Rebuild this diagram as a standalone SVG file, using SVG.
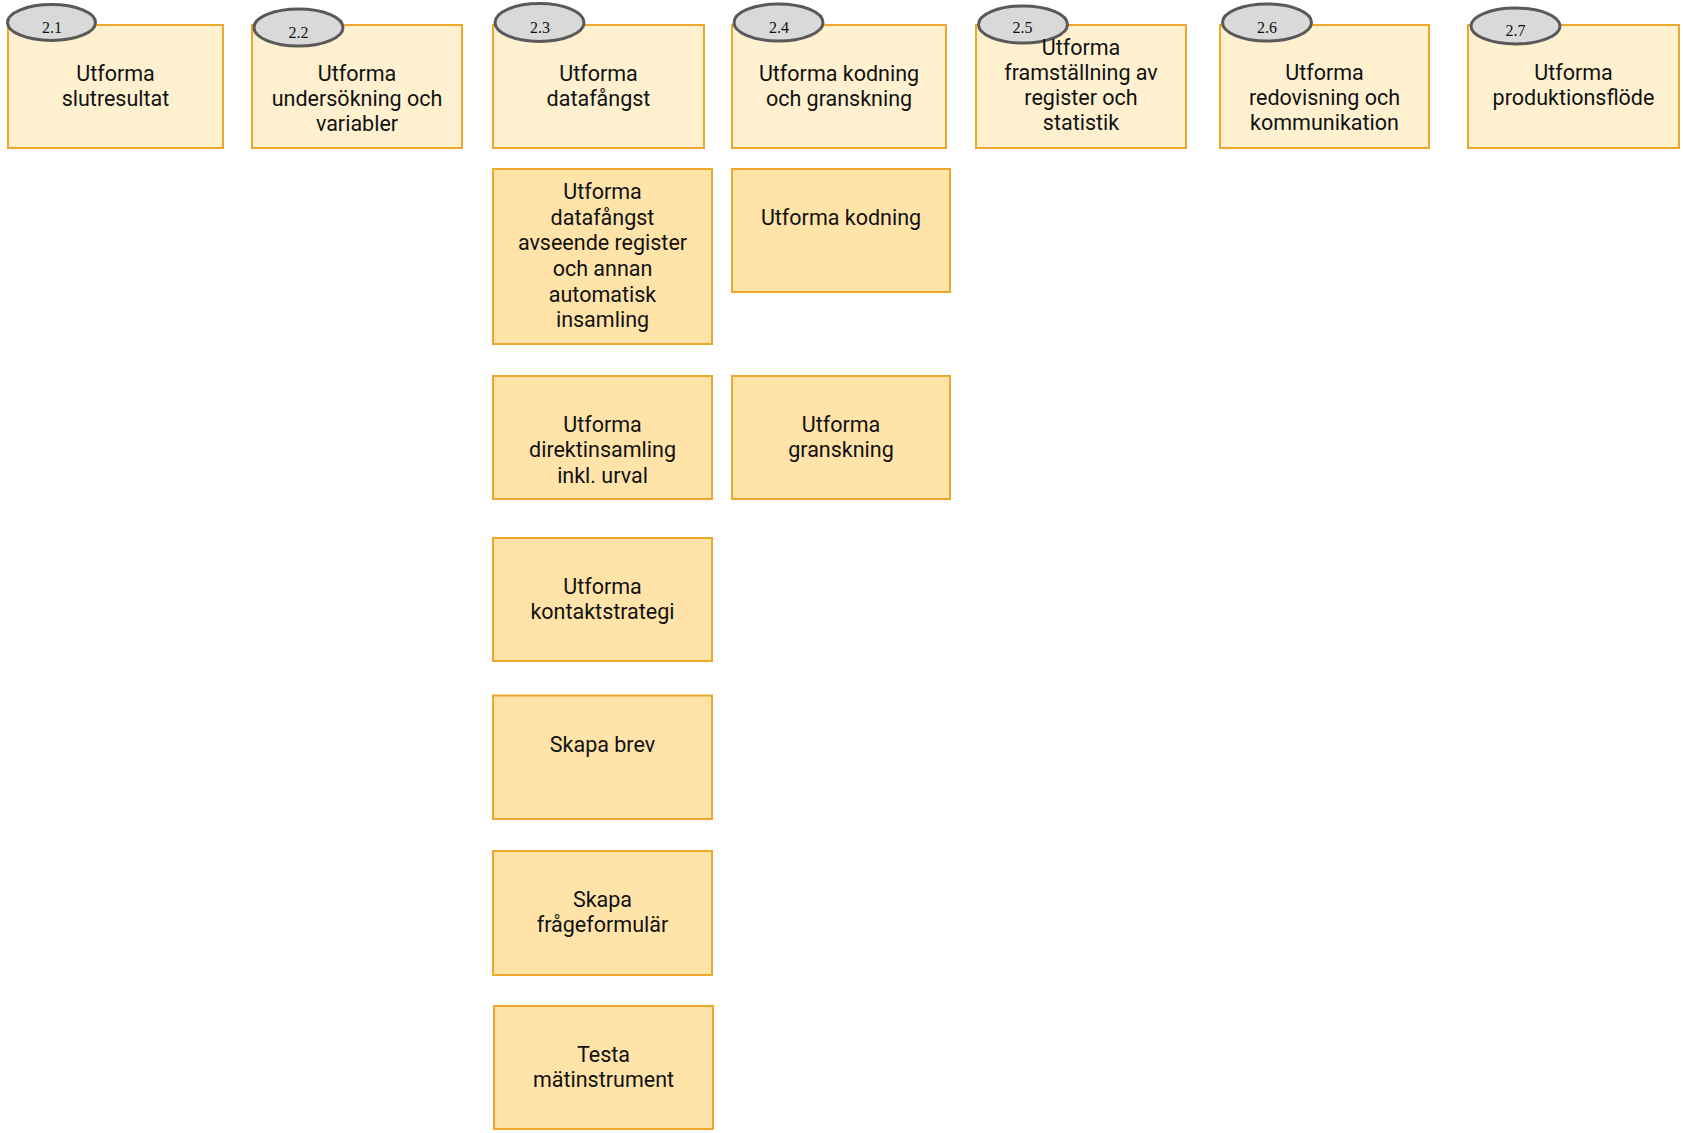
<svg xmlns="http://www.w3.org/2000/svg" width="1683" height="1133" viewBox="0 0 1683 1133">
<style>
.top{fill:#FFF1D0;stroke:#EBA82A;stroke-width:2}
.sub{fill:#FFE3A8;stroke:#EBA82A;stroke-width:2}
.ell{fill:#D9D9D9;stroke:#595959;stroke-width:3}
.t{font-family:Roboto,"Liberation Sans",sans-serif;font-size:21.5px;fill:#111;text-anchor:middle}
.n{font-family:"Liberation Serif",serif;font-size:16px;fill:#111;text-anchor:middle}
</style>
<rect width="1683" height="1133" fill="#fff"/>
<g id="connectors"/>
<g id="n21">
<rect class="top" x="8" y="25" width="215" height="123"/>
<ellipse class="ell" cx="51.5" cy="22.5" rx="44" ry="18"/>
<text class="n" x="52" y="33">2.1</text>
<text class="t" x="115.5" y="81">Utforma</text>
<text class="t" x="115.5" y="106">slutresultat</text>
</g>
<g id="n22">
<rect class="top" x="252" y="25" width="210" height="123"/>
<ellipse class="ell" cx="298.5" cy="27.5" rx="44.5" ry="18.5"/>
<text class="n" x="298.5" y="38">2.2</text>
<text class="t" x="357" y="81">Utforma</text>
<text class="t" x="357" y="106">undersökning och</text>
<text class="t" x="357" y="131">variabler</text>
</g>
<g id="n23">
<rect class="top" x="493" y="25" width="211" height="123"/>
<ellipse class="ell" cx="539.5" cy="22.5" rx="44.5" ry="19"/>
<text class="n" x="540" y="33">2.3</text>
<text class="t" x="598.5" y="81">Utforma</text>
<text class="t" x="598.5" y="106">datafångst</text>
</g>
<g id="n24">
<rect class="top" x="732" y="25" width="214" height="123"/>
<ellipse class="ell" cx="778.5" cy="22.5" rx="44.5" ry="18.5"/>
<text class="n" x="779" y="33">2.4</text>
<text class="t" x="839" y="81">Utforma kodning</text>
<text class="t" x="839" y="106">och granskning</text>
</g>
<g id="n25">
<rect class="top" x="976" y="25" width="210" height="123"/>
<ellipse class="ell" cx="1023" cy="24.5" rx="44.5" ry="18.5"/>
<text class="n" x="1022.5" y="33">2.5</text>
<text class="t" x="1081" y="55">Utforma</text>
<text class="t" x="1081" y="80">framställning av</text>
<text class="t" x="1081" y="105">register och</text>
<text class="t" x="1081" y="130">statistik</text>
</g>
<g id="n26">
<rect class="top" x="1220" y="25" width="209" height="123"/>
<ellipse class="ell" cx="1267" cy="22.5" rx="44.5" ry="18.5"/>
<text class="n" x="1267" y="33">2.6</text>
<text class="t" x="1324.5" y="80">Utforma</text>
<text class="t" x="1324.5" y="105">redovisning och</text>
<text class="t" x="1324.5" y="130">kommunikation</text>
</g>
<g id="n27">
<rect class="top" x="1468" y="25" width="211" height="123"/>
<ellipse class="ell" cx="1515.5" cy="26" rx="44.5" ry="18"/>
<text class="n" x="1515.5" y="36">2.7</text>
<text class="t" x="1573.5" y="80">Utforma</text>
<text class="t" x="1573.5" y="105">produktionsflöde</text>
</g>
<g id="s231">
<rect class="sub" x="493" y="169" width="219" height="175"/>
<text class="t" x="602.5" y="199">Utforma</text>
<text class="t" x="602.5" y="225">datafångst</text>
<text class="t" x="602.5" y="250">avseende register</text>
<text class="t" x="602.5" y="276">och annan</text>
<text class="t" x="602.5" y="302">automatisk</text>
<text class="t" x="602.5" y="327">insamling</text>
</g>
<g id="s232">
<rect class="sub" x="493" y="376" width="219" height="123"/>
<text class="t" x="602.5" y="432">Utforma</text>
<text class="t" x="602.5" y="457">direktinsamling</text>
<text class="t" x="602.5" y="483">inkl. urval</text>
</g>
<g id="s233">
<rect class="sub" x="493" y="538" width="219" height="123"/>
<text class="t" x="602.5" y="594">Utforma</text>
<text class="t" x="602.5" y="619">kontaktstrategi</text>
</g>
<g id="s234">
<rect class="sub" x="493" y="695.5" width="219" height="123.5"/>
<text class="t" x="602.5" y="751.5">Skapa brev</text>
</g>
<g id="s235">
<rect class="sub" x="493" y="851" width="219" height="124"/>
<text class="t" x="602.5" y="907">Skapa</text>
<text class="t" x="602.5" y="932">frågeformulär</text>
</g>
<g id="s236">
<rect class="sub" x="494" y="1006" width="219" height="123"/>
<text class="t" x="603.5" y="1062">Testa</text>
<text class="t" x="603.5" y="1087">mätinstrument</text>
</g>
<g id="s241">
<rect class="sub" x="732" y="169" width="218" height="123"/>
<text class="t" x="841" y="225">Utforma kodning</text>
</g>
<g id="s242">
<rect class="sub" x="732" y="376" width="218" height="123"/>
<text class="t" x="841" y="432">Utforma</text>
<text class="t" x="841" y="457">granskning</text>
</g>
</svg>
